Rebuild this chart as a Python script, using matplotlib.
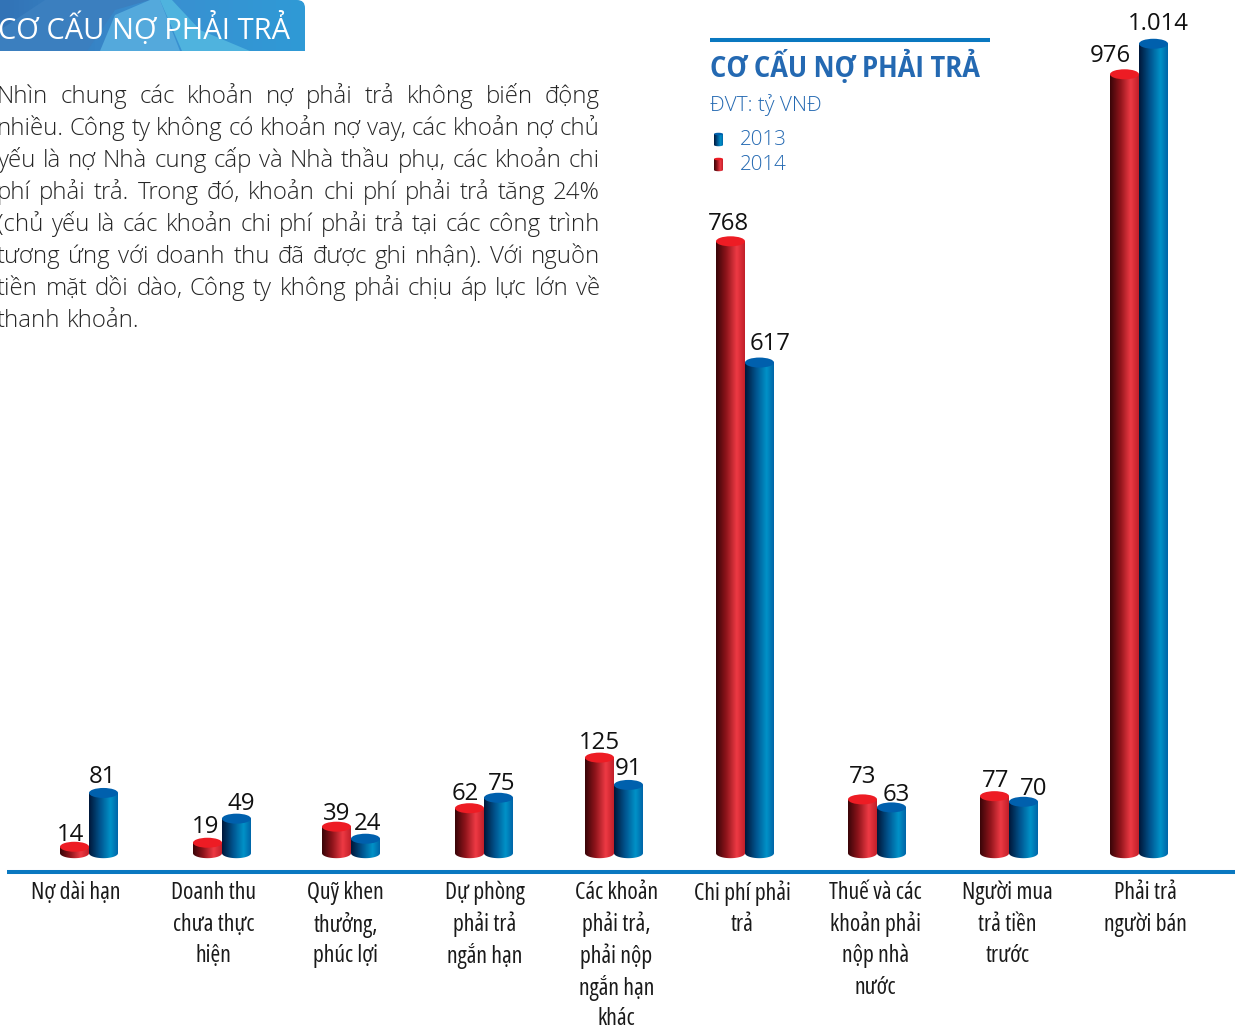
import numpy as np
import matplotlib
matplotlib.use("Agg")
import matplotlib.pyplot as plt
import matplotlib.font_manager as fm
from fontTools.ttLib import TTFont
from fontTools.varLib import instancer
from matplotlib.colors import LinearSegmentedColormap
from matplotlib.patches import Polygon, Ellipse, PathPatch
from matplotlib.path import Path

W, H = 1235, 1027

# data
categories = ["Nợ dài hạn", "Doanh thu\nchưa thực\nhiện", "Quỹ khen\nthưởng,\nphúc lợi",
              "Dự phòng\nphải trả\nngắn hạn", "Các khoản\nphải trả,\nphải nộp\nngắn hạn\nkhác",
              "Chi phí phải\ntrả", "Thuế và các\nkhoản phải\nnộp nhà\nnước",
              "Người mua\ntrả tiền\ntrước", "Phải trả\nngười bán"]
values_2014 = [14, 19, 39, 62, 125, 768, 73, 77, 976]
values_2013 = [81, 49, 24, 75, 91, 617, 63, 70, 1014]
labels_2014 = ["14", "19", "39", "62", "125", "768", "73", "77", "976"]
labels_2013 = ["81", "49", "24", "75", "91", "617", "63", "70", "1.014"]

paragraph = [
    "Nhìn chung các khoản nợ phải trả không biến động",
    "nhiều. Công ty không có khoản nợ vay, các khoản nợ chủ",
    "yếu là nợ Nhà cung cấp và Nhà thầu phụ, các khoản chi",
    "phí phải trả. Trong đó, khoản chi phí phải trả tăng 24%",
    "(chủ yếu là các khoản chi phí phải trả tại các công trình",
    "tương ứng với doanh thu đã được ghi nhận). Với nguồn",
    "tiền mặt dồi dào, Công ty không phải chịu áp lực lớn về",
    "thanh khoản.",
]

# layout, in pixels of the picture
group_x = [89, 222, 351, 484, 614, 745, 877, 1009, 1139]
cat_x = [75.5, 213.5, 345.5, 484.5, 616.5, 742.5, 875.5, 1007.5, 1145.5]
label_pos_2014 = [(70.5, 835), (205.5, 827), (336.5, 814), (465.5, 794), (599.5, 743), (728.5, 224), (862.5, 777), (995.5, 781), (1110.5, 56)]
label_pos_2013 = [(102.5, 777), (241, 804), (367.5, 824), (501.5, 784), (628.5, 769), (770, 344), (896, 795), (1033.5, 789), (1158, 24)]
bar_w = 29
px_per_unit = 0.803
zero_px = 858
base_value = 6

red_cmap = LinearSegmentedColormap.from_list("r", [(0, "#3a0508"), (0.35, "#8e141b"), (0.72, "#ee3a44"), (1, "#c2202a")])
blue_cmap = LinearSegmentedColormap.from_list("b", [(0, "#00183a"), (0.4, "#005792"), (0.75, "#0092c8"), (1, "#0066a8")])
red_top = "#ed1c24"
blue_top = "#0060ad"
line_blue = "#0a78c0"
text_blue = "#2469b2"


# narrower cuts of a variable font, since only the normal widths are installed
def width_cut(out_name, wdth, wght):
    src = None
    for f in fm.fontManager.ttflist:
        if "wdth" in f.fname and f.style == "normal" and f.name == "Open Sans":
            src = f.fname
    if src is None:
        for f in fm.fontManager.ttflist:
            if "wdth" in f.fname and f.style == "normal" and f.name == "Roboto":
                src = f.fname
    cut = instancer.instantiateVariableFont(TTFont(src), {"wdth": wdth, "wght": wght})
    cut.save(out_name)
    return fm.FontProperties(fname=out_name)


narrow_font = width_cut("narrow.ttf", 75, 400)
title_font = width_cut("title.ttf", 92, 700)

fig = plt.figure(figsize=(W / 100, H / 100), dpi=100)
ax = fig.add_axes([0, 0, 1, 1])
ax.set_xlim(0, W)
ax.set_ylim((zero_px - H) / px_per_unit, zero_px / px_per_unit)
ax.axis("off")

# pixel overlay for texts and decorations
pix = fig.add_axes([0, 0, 1, 1])
pix.set_xlim(0, W)
pix.set_ylim(H, 0)
pix.axis("off")
pix.patch.set_alpha(0)


def cylinder(a, x0, x1, bottom, top, ell_h, cmap, top_color):
    xm = (x0 + x1) / 2
    rx = (x1 - x0) / 2
    t = np.linspace(np.pi, 2 * np.pi, 40)
    xs = xm + rx * np.cos(t)
    ys = bottom + ell_h / 2 * np.sin(t) * np.sign(top - bottom)
    verts = [(x0, top)] + list(zip(xs, ys)) + [(x1, top), (x0, top)]
    shape = Polygon(verts, closed=True, fc="none", ec="none", transform=a.transData)
    a.add_patch(shape)
    grad = np.linspace(0, 1, 64).reshape(1, -1)
    lo, hi = min(bottom, top) - abs(ell_h), max(bottom, top) + abs(ell_h)
    im = a.imshow(grad, cmap=cmap, extent=[x0, x1, lo, hi], aspect="auto", zorder=2)
    im.set_clip_path(shape)
    a.add_patch(Ellipse((xm, top), x1 - x0, abs(ell_h), fc=top_color, ec="none", zorder=3))


for i in range(len(group_x)):
    xc = group_x[i]
    ell = 10 / px_per_unit
    cylinder(ax, xc - bar_w, xc, base_value, values_2014[i], ell, red_cmap, red_top)
    cylinder(ax, xc, xc + bar_w, base_value, values_2013[i], ell, blue_cmap, blue_top)
ax.set_xlim(0, W)
ax.set_ylim((zero_px - H) / px_per_unit, zero_px / px_per_unit)

# baseline
pix.plot([7, W], [871.5, 871.5], color=line_blue, lw=2.9, solid_capstyle="butt")

num_font = ["Open Sans", "DejaVu Sans"]
for i in range(len(group_x)):
    pix.text(*label_pos_2014[i], labels_2014[i], ha="center", va="center", fontsize=17.3, color="#111111", family=num_font)
    pix.text(*label_pos_2013[i], labels_2013[i], ha="center", va="center", fontsize=17.3, color="#111111", family=num_font)

for i, name in enumerate(categories):
    for j, line in enumerate(name.split("\n")):
        pix.text(cat_x[i], 893 + j * 31.6, line, ha="center", va="center", fontsize=17, color="#1a1a1a", fontproperties=narrow_font)

# banner
ban = Path([(-1, 0), (297, 0), (305, 0), (305, 8), (305, 51), (-1, 51), (-1, 0)],
           [Path.MOVETO, Path.LINETO, Path.CURVE3, Path.CURVE3, Path.LINETO, Path.LINETO, Path.CLOSEPOLY])
ban_patch = PathPatch(ban, fc="none", ec="none")
pix.add_patch(ban_patch)
ban_cmap = LinearSegmentedColormap.from_list("ban", ["#3273b6", "#3a8fd0", "#2f9ad6"])
ban_im = pix.imshow(np.linspace(0, 1, 64).reshape(1, -1), cmap=ban_cmap, extent=[0, 305, 51, 0], aspect="auto", zorder=1)
ban_im.set_clip_path(ban_patch)
for pts, col in [([(45, 0), (150, 0), (115, 10), (87, 51), (0, 51), (0, 30)], "#3b7fbf"),
                 ([(150, 0), (160, 0), (180, 51), (100, 51), (115, 15)], "#54a9dc"),
                 ([(160, 0), (172, 0), (200, 30), (250, 51), (182, 51)], "#4fb3de")]:
    p = Polygon(pts, closed=True, fc=col, ec="none", zorder=1.5)
    pix.add_patch(p)
pix.set_xlim(0, W)
pix.set_ylim(H, 0)
pix.text(-2, 39, "CƠ CẤU NỢ PHẢI TRẢ", color="white", fontsize=21, family=["Open Sans"], va="baseline", zorder=4)

# paragraph, justified by hand
fig.canvas.draw()
rend = fig.canvas.get_renderer()
body_left, body_right = -3, 600
for k, line in enumerate(paragraph):
    y = 103 + k * 32
    words = line.split(" ")
    items = [pix.text(0, y, w, fontsize=17.3, color="#262626", family=["Open Sans"], fontweight="light", va="baseline") for w in words]
    widths = [t.get_window_extent(rend).width for t in items]
    if k < len(paragraph) - 1:
        gap = (body_right - body_left - sum(widths)) / (len(words) - 1)
    else:
        gap = 6
    cur = body_left
    for t, wd in zip(items, widths):
        t.set_x(cur)
        cur += wd + gap

# chart title block
pix.plot([710, 990], [39.5, 39.5], color=line_blue, lw=2.9, solid_capstyle="butt")
pix.text(710, 77, "CƠ CẤU NỢ PHẢI TRẢ", color=text_blue, fontsize=20, fontproperties=title_font, va="baseline")
pix.text(710, 111, "ĐVT: tỷ VNĐ", color=text_blue, fontsize=15, family=["Open Sans"], fontweight="light", va="baseline")
legend_y = [145, 170]
for ly, lab, cm, tc in [(legend_y[0], "2013", blue_cmap, blue_top), (legend_y[1], "2014", red_cmap, red_top)]:
    cylinder(pix, 714, 723, ly, ly - 11, 2.5, cm, tc)
    pix.text(740, ly, lab, color=text_blue, fontsize=14.8, family=["Open Sans"], fontweight="light", va="baseline")
pix.set_xlim(0, W)
pix.set_ylim(H, 0)

fig.savefig("out.png", dpi=100, facecolor="white")
